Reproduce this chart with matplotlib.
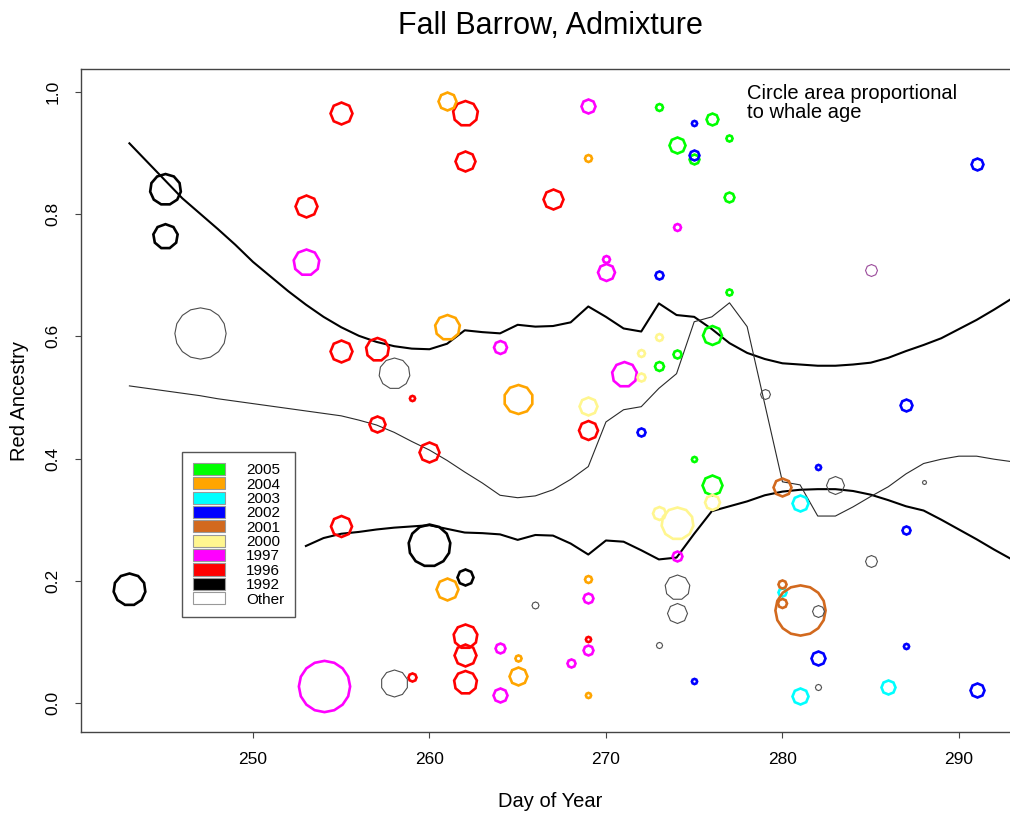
import matplotlib.pyplot as plt
import numpy as np
from matplotlib.patches import Patch

plt.rcParams['font.family'] = ['Liberation Sans', 'DejaVu Sans']

# whale samples: day of year, red ancestry, age (circle area), sampling year
whale_day = [255, 253, 262, 262, 267, 255, 257, 257, 255, 259, 259, 269, 260, 262, 262, 262, 269,
             245, 245, 243, 260, 262,
             253, 269, 274, 270, 270, 264, 271, 254, 274, 269, 269, 264, 268, 264,
             261, 269, 261, 265, 261, 269, 265, 265, 269,
             273, 276, 274, 275, 277, 277, 277, 276, 274, 273, 275, 276,
             275, 275, 273, 291, 272, 287, 282, 287, 287, 282, 291, 275,
             273, 272, 272, 269, 276, 273, 274,
             281, 280, 281, 286,
             280, 280, 280, 281,
             247, 258, 258, 279, 283, 288, 285, 282, 282, 266, 274, 274, 273,
             285]
whale_red = [0.966, 0.813, 0.966, 0.887, 0.825, 0.576, 0.579, 0.457, 0.290, 0.043, 0.499, 0.447,
             0.411, 0.110, 0.079, 0.034, 0.105,
             0.841, 0.764, 0.187, 0.259, 0.206,
             0.722, 0.977, 0.779, 0.727, 0.705, 0.583, 0.538, 0.028, 0.241, 0.172, 0.087, 0.090,
             0.066, 0.013,
             0.985, 0.892, 0.616, 0.497, 0.187, 0.203, 0.074, 0.044, 0.013,
             0.975, 0.956, 0.913, 0.890, 0.925, 0.828, 0.673, 0.602, 0.571, 0.552, 0.400, 0.357,
             0.949, 0.897, 0.700, 0.882, 0.444, 0.487, 0.386, 0.283, 0.094, 0.073, 0.021, 0.036,
             0.599, 0.573, 0.534, 0.486, 0.329, 0.311, 0.294,
             0.327, 0.182, 0.011, 0.027,
             0.353, 0.194, 0.164, 0.152,
             0.606, 0.540, 0.033, 0.506, 0.356, 0.361, 0.233, 0.151, 0.027, 0.160, 0.190, 0.147,
             0.095,
             0.708]
whale_age = [8.8, 8.8, 11.4, 7.3, 7.3, 8.8, 9.7, 4.7, 8.1, 1.2, 0.5, 6.6, 7.3, 10.5, 8.8, 9.7, 0.5,
             17.5, 11.1, 18.7, 32, 4.7,
             12.3, 3.6, 0.9, 0.9, 5.3, 3.1, 11.4, 48, 1.8, 1.8, 1.8, 1.8, 1.2, 3.6,
             5.9, 0.9, 11.4, 15.4, 8.8, 0.9, 0.7, 5.9, 0.5,
             0.9, 2.6, 4.7, 1.8, 0.7, 1.8, 0.7, 6.6, 1.2, 1.5, 0.5, 7.3,
             0.5, 1.8, 1.2, 2.6, 1.2, 2.6, 0.5, 1.2, 0.5, 3.6, 3.6, 0.5,
             0.9, 0.9, 1.2, 5.9, 4.1, 3.1, 18.7,
             4.7, 1.2, 4.7, 3.6,
             5.9, 1.2, 1.5, 46,
             48, 17.5, 13.3, 1.8, 5.9, 0.3, 2.6, 2.6, 0.7, 0.9, 11.4, 7.3, 0.7,
             2.6]
whale_year = (['1996'] * 17 + ['1992'] * 5 + ['1997'] * 14 + ['2004'] * 9 + ['2005'] * 12
              + ['2002'] * 12 + ['2000'] * 7 + ['2003'] * 4 + ['2001'] * 4 + ['Other'] * 13
              + ['Other-p'])

legend_years = ['2005', '2004', '2003', '2002', '2001', '2000', '1997', '1996', '1992', 'Other']
year_colors = {'2005': '#00FF00', '2004': '#FFA500', '2003': '#00FFFF', '2002': '#0000FF',
               '2001': '#D2691E', '2000': '#FFF68F', '1997': '#FF00FF', '1996': '#FF0000',
               '1992': '#000000', 'Other': '#FFFFFF'}
outline_colors = dict(year_colors, **{'Other': '#4d4d4d', 'Other-p': '#9a4a9a'})

# smoothed ancestry curves by day
curve_days = list(range(243, 294))
upper_curve = [0.916, 0.886, 0.856, 0.826, 0.801, 0.776, 0.750, 0.722, 0.698, 0.674, 0.652,
               0.632, 0.615, 0.601, 0.591, 0.584, 0.580, 0.579, 0.588, 0.610, 0.607, 0.605,
               0.619, 0.616, 0.617, 0.623, 0.649, 0.632, 0.613, 0.608, 0.654, 0.635, 0.632,
               0.612, 0.589, 0.573, 0.563, 0.556, 0.554, 0.552, 0.552, 0.554, 0.557, 0.565,
               0.576, 0.586, 0.597, 0.612, 0.627, 0.644, 0.662]
middle_curve = [0.519, 0.515, 0.511, 0.507, 0.503, 0.498, 0.494, 0.490, 0.486, 0.482, 0.478,
                0.474, 0.470, 0.463, 0.455, 0.443, 0.428, 0.414, 0.397, 0.378, 0.360, 0.340,
                0.336, 0.339, 0.349, 0.366, 0.387, 0.460, 0.480, 0.485, 0.515, 0.539, 0.624,
                0.632, 0.655, 0.616, 0.489, 0.362, 0.357, 0.306, 0.306, 0.321, 0.338, 0.354,
                0.375, 0.392, 0.399, 0.404, 0.404, 0.399, 0.395]
lower_days = list(range(253, 294))
lower_curve = [0.257, 0.270, 0.277, 0.280, 0.284, 0.287, 0.289, 0.291, 0.285, 0.279, 0.278,
               0.276, 0.267, 0.275, 0.274, 0.261, 0.243, 0.266, 0.264, 0.250, 0.235, 0.238,
               0.277, 0.314, 0.322, 0.330, 0.340, 0.346, 0.349, 0.350, 0.350, 0.347, 0.341,
               0.332, 0.322, 0.315, 0.300, 0.284, 0.268, 0.251, 0.235]

fig = plt.figure(figsize=(10.1, 8.17), dpi=100)
ax = fig.add_axes([0.0799, 0.104, 0.930, 0.8115])

ax.plot(curve_days, upper_curve, color='black', lw=1.5, zorder=3)
ax.plot(lower_days, lower_curve, color='black', lw=1.5, zorder=3)
ax.plot(curve_days, middle_curve, color='#2a2a2a', lw=0.8, zorder=3)

# circles: area proportional to age, drawn as coarse polygons
for d, r, a, yr in zip(whale_day, whale_red, whale_age, whale_year):
    rad = 3.7 * np.sqrt(a)
    sides = int(np.clip(round(3 + 0.5 * rad), 8, 18))
    thin = yr.startswith('Other')
    ax.plot(d, r, marker=(sides, 0, 0), ms=2 * rad * 0.72, mfc='none',
            mec=outline_colors[yr], mew=0.8 if thin else 1.9, ls='none', zorder=4)

handles = [Patch(facecolor=year_colors[y], edgecolor='#999999', lw=0.8) for y in legend_years]
leg = ax.legend(handles, legend_years, loc='upper left', bbox_to_anchor=(0.1078, 0.4223),
                borderaxespad=0, fancybox=False, framealpha=1, edgecolor='#555555',
                fontsize=11, handlelength=2.1, handleheight=0.85, handletextpad=1.4,
                labelspacing=0.0, borderpad=0.7)
leg.get_frame().set_linewidth(1.0)

ax.text(0.709, 0.977, 'Circle area proportional\nto whale age', transform=ax.transAxes,
        fontsize=14.5, va='top', ha='left', linespacing=0.95)

ax.set_xlim(240.24, 293.46)
ax.set_ylim(-0.0475, 1.0376)
ax.set_xticks([250, 260, 270, 280, 290])
ax.set_yticks([0.0, 0.2, 0.4, 0.6, 0.8, 1.0])
ax.set_yticklabels(['0.0', '0.2', '0.4', '0.6', '0.8', '1.0'], rotation=90, va='center')
ax.tick_params(direction='out', length=4.5, width=0.8, color='#444444', labelsize=12.5, pad=10)
for side in ['top', 'left', 'bottom']:
    ax.spines[side].set_color('#444444')
    ax.spines[side].set_linewidth(1.0)
ax.spines['right'].set_visible(False)

ax.set_xlabel('Day of Year', fontsize=14.5, labelpad=18)
ax.set_ylabel('Red Ancestry', fontsize=14.5, labelpad=12)
ax.set_title('Fall Barrow, Admixture', fontsize=22, pad=25)

fig.savefig('out.png', dpi=100)
